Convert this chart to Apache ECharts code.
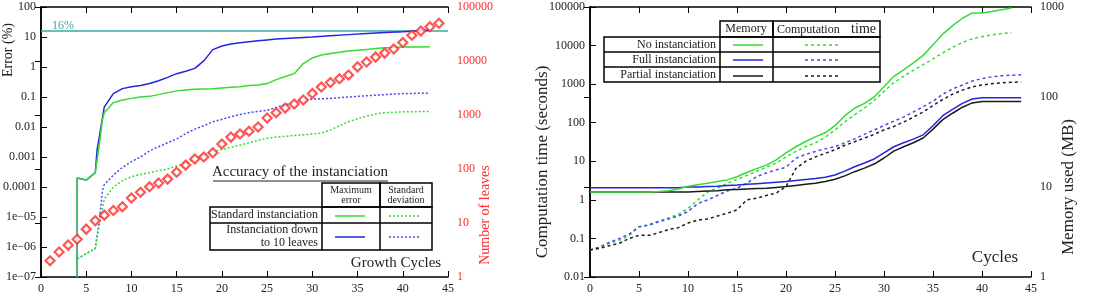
<!DOCTYPE html>
<html>
<head>
<meta charset="utf-8">
<script src="https://cdn.jsdelivr.net/npm/echarts@6/dist/echarts.min.js"></script>
<style>
  html, body { margin: 0; padding: 0; background: #fff; }
  #chart { width: 1096px; height: 299px; }
</style>
</head>
<body>
<div id="chart"></div>
<script>
// ---- left chart: accuracy of the instanciation ----
const errorTicks = ['1e\u221207', '1e\u221206', '1e\u221205', '0.0001', '0.001', '0.01', '0.1', '1', '10', '100']
const leavesTicks = ['1', '10', '100', '1000', '10000', '100000']

const thresholdX = [0, 45]
const thresholdY = [16, 16]

const maxErrStdX = [4, 4, 5, 6, 6.4, 6.8, 7, 8, 9, 10, 11, 12, 13, 14, 15, 16, 17, 18, 19, 20, 21, 22, 23, 24, 25, 26, 27, 28, 29, 30, 31, 32, 33, 34, 35, 36, 37, 38, 39, 40, 41, 42, 43]
const maxErrStdY = [1e-7, 2e-4, 1.7e-4, 3e-4, 0.002, 0.018, 0.03, 0.065, 0.08, 0.09, 0.1, 0.105, 0.12, 0.14, 0.16, 0.17, 0.18, 0.185, 0.19, 0.2, 0.21, 0.22, 0.24, 0.25, 0.28, 0.38, 0.48, 0.6, 1.3, 2, 2.5, 2.8, 3.1, 3.4, 3.6, 3.8, 4.1, 4.4, 4.5, 4.6, 4.6, 4.6, 4.7]

const maxErrLeafX = [4, 4, 5, 6, 6.2, 7, 8, 9, 10, 11, 12, 13, 14, 15, 16, 17, 18, 19, 20, 21, 22, 23, 24, 25, 26, 28, 30, 32, 34, 36, 38, 40, 42, 43]
const maxErrLeafY = [1e-7, 2e-4, 1.7e-4, 3e-4, 0.0017, 0.047, 0.13, 0.19, 0.22, 0.24, 0.28, 0.35, 0.45, 0.6, 0.72, 0.9, 1.6, 3.8, 5, 5.8, 6.4, 7, 7.5, 8, 8.5, 9.3, 10, 11, 12, 13, 14, 15, 16.5, 17]

const devStdX = [4, 5, 6, 6.6, 7, 8, 9, 10, 11, 12, 13, 14, 15, 16, 17, 18, 19, 20, 21, 22, 23, 24, 25, 26, 28, 30, 31, 32, 33, 34, 35, 36, 37, 38, 40, 43]
const devStdY = [4e-7, 6e-7, 9e-7, 1e-5, 4e-5, 1e-4, 1.6e-4, 2.2e-4, 2.6e-4, 3e-4, 3.5e-4, 4e-4, 5e-4, 6e-4, 9e-4, 1.2e-3, 1.5e-3, 1.8e-3, 2.1e-3, 2.5e-3, 3e-3, 3.6e-3, 4.2e-3, 4.6e-3, 5.2e-3, 5.8e-3, 6.3e-3, 8e-3, 0.011, 0.015, 0.019, 0.023, 0.027, 0.03, 0.032, 0.033]

const devLeafX = [4, 5, 6, 6.5, 6.8, 7, 8, 9, 10, 11, 12, 13, 14, 15, 16, 17, 18, 19, 20, 21, 22, 23, 24, 25, 26, 27, 28, 29, 30, 32, 34, 36, 38, 40, 43]
const devLeafY = [4e-7, 6e-7, 9e-7, 1e-5, 8e-5, 1.2e-4, 2.5e-4, 4.5e-4, 7e-4, 1e-3, 1.6e-3, 2.2e-3, 3e-3, 4e-3, 6e-3, 8.5e-3, 0.011, 0.015, 0.018, 0.022, 0.026, 0.03, 0.033, 0.036, 0.045, 0.055, 0.065, 0.08, 0.085, 0.09, 0.1, 0.11, 0.12, 0.13, 0.135]

const leafCycles = [1, 2, 3, 4, 5, 6, 7, 8, 9, 10, 11, 12, 13, 14, 15, 16, 17, 18, 19, 20, 21, 22, 23, 24, 25, 26, 27, 28, 29, 30, 31, 32, 33, 34, 35, 36, 37, 38, 39, 40, 41, 42, 43, 44]
const leafCount = [2, 2.9, 3.9, 5, 7.7, 11, 14, 17, 20, 29, 37, 47, 55, 65, 87, 118, 153, 167, 200, 290, 390, 445, 500, 600, 880, 1100, 1350, 1600, 1900, 2500, 3300, 4000, 4700, 5500, 7800, 9600, 11800, 14000, 16700, 22000, 30000, 36000, 43000, 50000]

// ---- right chart: computation time and memory ----
const timeTicks = ['0.01', '0.1', '1', '10', '100', '1000', '10000', '100000']
const memoryTicks = ['1', '10', '100', '1000']

const cycles43 = [0, 1, 2, 3, 4, 5, 6, 7, 8, 9, 10, 11, 12, 13, 14, 15, 16, 17, 18, 19, 20, 21, 22, 23, 24, 25, 26, 27, 28, 29, 30, 31, 32, 33, 34, 35, 36, 37, 38, 39, 40, 41, 42, 43]
const cycles44 = cycles43.concat([44])

const memNone = [8.8, 8.8, 8.8, 8.8, 8.8, 8.8, 8.8, 8.9, 9.1, 9.5, 10.2, 10.6, 11, 11.5, 12, 13, 14.5, 16, 17.5, 20, 24, 28, 32, 36, 40, 48, 62, 75, 85, 100, 130, 170, 200, 240, 290, 380, 500, 620, 750, 860, 860, 890, 930, 975]
const memFull = [9.8, 9.8, 9.8, 9.8, 9.8, 9.8, 9.8, 9.8, 9.8, 9.8, 10, 10, 10.1, 10.2, 10.4, 10.5, 10.7, 10.9, 11.1, 11.3, 11.5, 11.8, 12.1, 12.4, 12.8, 13.6, 15, 16.8, 18.5, 20.5, 24, 28, 31, 34, 38, 48, 62, 73, 85, 95, 98, 98, 98, 98, 98]
const memPartial = [8.8, 8.8, 8.8, 8.8, 8.8, 8.8, 8.8, 8.8, 8.8, 8.8, 8.8, 8.9, 9, 9.1, 9.3, 9.4, 9.5, 9.6, 9.7, 9.9, 10.1, 10.4, 10.7, 11, 11.5, 12.2, 13.3, 14.8, 16.2, 18, 21, 25, 28, 31, 35, 44, 56, 66, 77, 86, 89, 89, 89, 89, 89]

const timeNone = [0.05, 0.06, 0.075, 0.09, 0.12, 0.2, 0.23, 0.28, 0.34, 0.42, 0.6, 1.0, 1.6, 2.0, 2.7, 3.4, 4.3, 5.5, 7, 9, 13, 18, 24, 30, 42, 65, 105, 160, 240, 380, 650, 1100, 1600, 2300, 3200, 4500, 6500, 9000, 12000, 15000, 17000, 19000, 20500, 21500]
const timeFull = [0.05, 0.06, 0.08, 0.1, 0.13, 0.2, 0.22, 0.27, 0.32, 0.38, 0.5, 0.8, 1.0, 1.3, 1.7, 2, 2.7, 4, 5, 6, 7, 12, 15, 18, 21, 24, 30, 38, 50, 65, 85, 110, 140, 190, 260, 360, 550, 750, 950, 1200, 1400, 1550, 1650, 1700, 1750]
const timePartial = [0.05, 0.055, 0.065, 0.075, 0.1, 0.12, 0.12, 0.14, 0.17, 0.19, 0.25, 0.3, 0.32, 0.38, 0.45, 0.55, 1.0, 1.1, 1.3, 1.5, 2.2, 6.5, 10, 13, 16, 20, 26, 32, 40, 50, 65, 80, 104, 140, 190, 280, 400, 550, 700, 850, 950, 1020, 1080, 1120, 1140]

const FONT = '"Liberation Serif", "DejaVu Serif", serif'
const GREEN = '#33dd33'
const BLUE = '#2424dd'
const BLUE_DOT = '#4848f2'
const BLACK = '#1a1a1a'
const CYAN = '#3aa9a9'
const RED = '#ff2b2b'

function zip(xs, ys) {
  return xs.map((x, i) => [x, ys[i]])
}

function xAxisOf(grid, top) {
  return {
    type: 'value',
    gridIndex: grid,
    min: 0,
    max: 45,
    interval: 5,
    position: top ? 'top' : 'bottom',
    axisLine: { onZero: false, lineStyle: { color: '#000', width: 1.5 } },
    axisTick: { inside: true, length: 6, lineStyle: { color: '#000' } },
    axisLabel: top ? { show: false } : { color: '#222', fontFamily: FONT, fontSize: 12, margin: 6 },
    splitLine: { show: false }
  }
}

function logAxis(grid, pos, labels, color, margin) {
  const lo = Math.pow(10, -labels.indexOf('1'))
  return {
    type: 'log',
    logBase: 10,
    gridIndex: grid,
    position: pos,
    min: lo,
    max: lo * Math.pow(10, labels.length - 1),
    splitNumber: labels.length - 1,
    axisLine: { lineStyle: { color: '#000', width: 1.5 } },
    axisTick: { inside: true, length: 6, lineStyle: { color: '#000' } },
    axisLabel: {
      color: color,
      fontFamily: FONT,
      fontSize: 12,
      margin: margin,
      formatter: v => labels[Math.round(Math.log10(v / lo))]
    },
    splitLine: { show: false }
  }
}

function line(name, x, y, xi, yi, color, dotted, dash) {
  return {
    name: name,
    type: 'line',
    xAxisIndex: xi,
    yAxisIndex: yi,
    data: zip(x, y),
    symbol: 'none',
    silent: true,
    lineStyle: { color: color, width: 1.5, type: dotted ? dash : 'solid' }
  }
}

function text(x, y, str, size, opts) {
  return Object.assign({
    type: 'text',
    x: x,
    y: y,
    style: Object.assign({ text: str, fontFamily: FONT, fontSize: size, fill: '#222', align: 'center', verticalAlign: 'middle' }, (opts && opts.style) || {})
  }, (opts && opts.el) || {})
}

function seg(x1, y1, x2, y2, color, width, dash) {
  return { type: 'line', shape: { x1, y1, x2, y2 }, style: { stroke: color, lineWidth: width, lineDash: dash || null } }
}

function box(x, y, w, h) {
  return { type: 'rect', shape: { x, y, width: w, height: h }, style: { fill: null, stroke: '#000', lineWidth: 1.5 } }
}

const chart = echarts.init(document.getElementById('chart'), null, { renderer: 'canvas' })

chart.setOption({
  animation: false,
  backgroundColor: '#fff',
  grid: [
    { left: 36, top: 7, width: 412, height: 270 },
    { left: 590, top: 7, width: 441, height: 270 }
  ],
  xAxis: [xAxisOf(0, false), xAxisOf(0, true), xAxisOf(1, false), xAxisOf(1, true)],
  yAxis: [
    logAxis(0, 'left', errorTicks, '#222', 5),
    logAxis(0, 'right', leavesTicks, RED, 9),
    logAxis(1, 'left', timeTicks, '#222', 5),
    logAxis(1, 'right', memoryTicks, '#222', 9)
  ],
  series: [
    line('16%', thresholdX, thresholdY, 0, 0, CYAN, false),
    line('dev leaf', devLeafX, devLeafY, 0, 0, BLUE_DOT, true, [2, 2]),
    line('dev std', devStdX, devStdY, 0, 0, GREEN, true, [2, 2]),
    line('max leaf', maxErrLeafX, maxErrLeafY, 0, 0, BLUE, false),
    line('max std', maxErrStdX, maxErrStdY, 0, 0, GREEN, false),
    {
      name: 'leaves',
      type: 'scatter',
      xAxisIndex: 0,
      yAxisIndex: 1,
      data: zip(leafCycles, leafCount),
      symbol: 'diamond',
      symbolSize: 9,
      z: 5,
      itemStyle: { color: '#fff', borderColor: RED, borderWidth: 2.2 }
    },
    line('time none', cycles43, timeNone, 2, 2, GREEN, true, [3, 3]),
    line('time full', cycles44, timeFull, 2, 2, BLUE_DOT, true, [3, 3]),
    line('time partial', cycles44, timePartial, 2, 2, BLACK, true, [3, 3]),
    line('mem partial', cycles44, memPartial, 2, 3, BLACK, false),
    line('mem full', cycles44, memFull, 2, 3, BLUE, false),
    line('mem none', cycles43, memNone, 2, 3, GREEN, false)
  ],
  graphic: [
    // left chart labels
    text(8, 50, 'Error (%)', 14, { el: { rotation: Math.PI / 2 } }),
    text(485, 215, 'Number of leaves', 14, { el: { rotation: Math.PI / 2 }, style: { fill: RED } }),
    text(52, 26, '16%', 12, { style: { fill: CYAN, align: 'left' } }),
    text(300, 172, 'Accuracy of the instanciation', 15),
    seg(213, 181, 388, 181, '#222', 1),
    text(396, 263, 'Growth Cycles', 15),
    // left legend table
    box(322, 183, 58, 24),
    box(380, 183, 52, 24),
    box(210, 207, 222, 43),
    seg(210, 223, 432, 223, '#000', 1.5),
    seg(322, 207, 322, 250, '#000', 1.5),
    seg(380, 207, 380, 250, '#000', 1.5),
    text(351, 190, 'Maximum', 10),
    text(351, 200, 'error', 10),
    text(406, 190, 'Standard', 10),
    text(406, 200, 'deviation', 10),
    text(318, 215, 'Standard instanciation', 12, { style: { align: 'right' } }),
    text(318, 230, 'Instanciation down', 12, { style: { align: 'right' } }),
    text(318, 243, 'to 10 leaves', 12, { style: { align: 'right' } }),
    seg(335, 216, 365, 216, GREEN, 1.5),
    seg(389, 216, 420, 216, GREEN, 1.5, [2, 2]),
    seg(335, 237, 365, 237, BLUE, 1.5),
    seg(389, 237, 420, 237, BLUE_DOT, 1.5, [2, 2]),
    // right chart labels
    text(543, 162, 'Computation time (seconds)', 17, { el: { rotation: Math.PI / 2 } }),
    text(1069, 187, 'Memory used (MB)', 17, { el: { rotation: Math.PI / 2 } }),
    text(995, 258, 'Cycles', 17),
    // right legend table
    box(720, 21, 53, 16),
    box(773, 21, 107, 16),
    box(604, 37, 276, 45),
    seg(604, 52, 880, 52, '#000', 1.5),
    seg(604, 67, 880, 67, '#000', 1.5),
    seg(720, 37, 720, 82, '#000', 1.5),
    seg(773, 37, 773, 82, '#000', 1.5),
    text(746, 29, 'Memory', 12),
    text(777, 30, 'Computation', 12, { style: { align: 'left' } }),
    text(876, 29, 'time', 14, { style: { align: 'right' } }),
    text(716, 45, 'No instanciation', 12, { style: { align: 'right' } }),
    text(716, 60, 'Full instanciation', 12, { style: { align: 'right' } }),
    text(716, 75, 'Partial instanciation', 12, { style: { align: 'right' } }),
    seg(733, 45, 763, 45, GREEN, 1.5),
    seg(733, 60, 763, 60, BLUE, 1.5),
    seg(733, 76, 763, 76, BLACK, 1.5),
    seg(805, 45, 840, 45, GREEN, 1.5, [3, 3]),
    seg(805, 60, 840, 60, BLUE_DOT, 1.5, [3, 3]),
    seg(805, 76, 840, 76, BLACK, 1.5, [3, 3])
  ]
})
</script>
</body>
</html>
